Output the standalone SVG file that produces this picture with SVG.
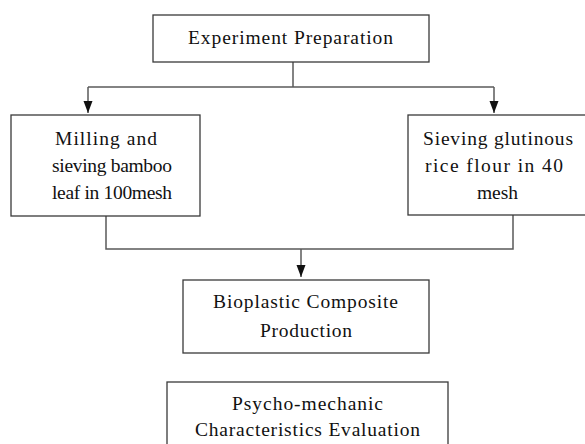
<svg xmlns="http://www.w3.org/2000/svg" width="585" height="444" viewBox="0 0 585 444">
<style>
.box{fill:#fff;stroke:#3a3a3a;stroke-width:1.3}
.t{font-size:19.5px;fill:#111;text-anchor:middle}
.c{fill:none;stroke:#5a5a5a;stroke-width:1.5}
</style>
<defs>
<marker id="ah" markerUnits="userSpaceOnUse" markerWidth="12" markerHeight="10" viewBox="0 0 12 10" refX="12" refY="4.5" orient="auto">
<path d="M0,0 L12,4.5 L0,9 Z" fill="#111"/>
</marker>
</defs>
<rect width="585" height="444" fill="#fff"/>
<g id="connectors">
<path class="c" d="M293,62 V87"/>
<path class="c" d="M88,87 H494"/>
<path class="c" d="M88,87 V113" marker-end="url(#ah)"/>
<path class="c" d="M494,87 V113" marker-end="url(#ah)"/>
<path class="c" d="M106,216 V249 H513 V215"/>
<path class="c" d="M301,249 V277" marker-end="url(#ah)"/>
</g>
<g font-family="Liberation Serif, Times New Roman, DejaVu Serif, serif">
<g id="n1">
<rect class="box" x="153" y="15" width="276" height="47"/>
<text class="t" x="290.5" y="44" textLength="205" lengthAdjust="spacing">Experiment Preparation</text>
</g>
<g id="n2">
<rect class="box" x="11" y="115" width="189" height="101"/>
<text class="t" x="106" y="145" textLength="102" lengthAdjust="spacing">Milling and</text>
<text class="t" x="112" y="172" textLength="120" lengthAdjust="spacing">sieving bamboo</text>
<text class="t" x="112" y="199" textLength="120" lengthAdjust="spacing">leaf in 100mesh</text>
</g>
<g id="n3">
<rect class="box" x="408" y="115" width="180" height="100"/>
<text class="t" x="498" y="145" textLength="150" lengthAdjust="spacing">Sieving glutinous</text>
<text class="t" x="494" y="172" textLength="138" lengthAdjust="spacing">rice flour in 40</text>
<text class="t" x="497.5" y="199">mesh</text>
</g>
<g id="n4">
<rect class="box" x="183" y="280" width="246" height="73"/>
<text class="t" x="305.5" y="308" textLength="185" lengthAdjust="spacing">Bioplastic Composite</text>
<text class="t" x="306" y="337" textLength="92" lengthAdjust="spacing">Production</text>
</g>
<g id="n5">
<rect class="box" x="167" y="382" width="281" height="80"/>
<text class="t" x="307.5" y="410" textLength="151" lengthAdjust="spacing">Psycho-mechanic</text>
<text class="t" x="307.5" y="436" textLength="225" lengthAdjust="spacing">Characteristics Evaluation</text>
</g>
</g>
</svg>
